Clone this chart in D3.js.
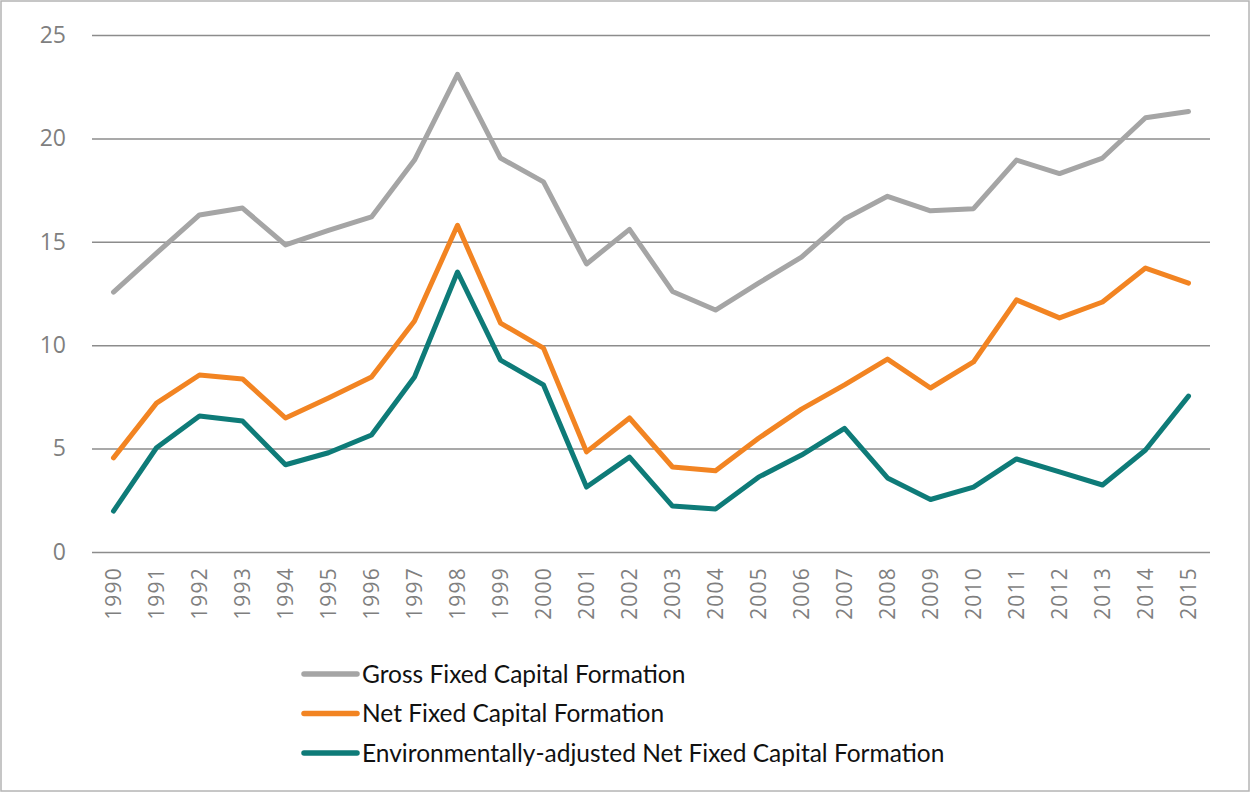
<!DOCTYPE html>
<html>
<head>
<meta charset="utf-8">
<script src="https://cdn.jsdelivr.net/npm/d3@7"></script>
<style>
  body { margin: 0; background: #fff; }
  svg { display: block; font-family: Lato, "Open Sans", sans-serif; }
</style>
</head>
<body>
<svg id="chart" width="1250" height="793"></svg>
<script>
// data
var years = [1990,1991,1992,1993,1994,1995,1996,1997,1998,1999,2000,2001,2002,2003,2004,2005,2006,2007,2008,2009,2010,2011,2012,2013,2014,2015];
var gross = [12.57,14.45,16.3,16.63,14.85,15.55,16.2,18.95,23.1,19.05,17.9,13.93,15.6,12.6,11.7,13.0,14.26,16.1,17.2,16.5,16.6,18.95,18.3,19.05,21.0,21.3];
var net = [4.55,7.2,8.56,8.37,6.48,7.45,8.46,11.17,15.8,11.07,9.86,4.84,6.48,4.11,3.93,5.5,6.91,8.08,9.33,7.93,9.19,12.19,11.32,12.09,13.73,13.0];
var envAdj = [1.98,5.04,6.58,6.33,4.22,4.8,5.66,8.46,13.54,9.28,8.08,3.14,4.59,2.22,2.08,3.62,4.69,5.98,3.58,2.54,3.14,4.5,3.87,3.24,4.93,7.54];
var yTicks = [0,5,10,15,20,25];

var seriesNames = ["Gross Fixed Capital Formation", "Net Fixed Capital Formation", "Environmentally-adjusted Net Fixed Capital Formation"];
var seriesColors = ["#a5a5a5", "#f28422", "#0e7b78"];
var seriesData = [gross, net, envAdj];

var svg = d3.select("#chart");
var W = 1250, H = 793;
var mLeft = 92, mRight = 1210, mTop = 35, mBottom = 552;

svg.append("rect")
  .attr("x", 1).attr("y", 1)
  .attr("width", W - 2).attr("height", H - 3)
  .attr("fill", "#fff").attr("stroke", "#b4b4b4").attr("stroke-width", 1.5);

var x = d3.scaleBand().domain(years).range([mLeft, mRight]);
var y = d3.scaleLinear().domain([0, 25]).range([mBottom, mTop]);

// gridlines + y labels
var yAxis = svg.append("g")
  .attr("transform", "translate(" + mLeft + ",0)")
  .call(d3.axisLeft(y).tickValues(yTicks).tickSize(-(mRight - mLeft)).tickPadding(26));
yAxis.select(".domain").remove();
yAxis.selectAll(".tick line").attr("stroke", "#8c8c8c").attr("stroke-width", 1.5);
yAxis.selectAll(".tick text")
  .attr("fill", "#7f7f7f")
  .style("font-family", "'Open Sans', sans-serif")
  .style("font-size", "23px");

// x labels, rotated
var xAxis = svg.append("g")
  .attr("transform", "translate(0," + mBottom + ")")
  .call(d3.axisBottom(x).tickSize(0));
xAxis.select(".domain").remove();
xAxis.selectAll(".tick text")
  .attr("fill", "#7f7f7f")
  .style("font-family", "'Open Sans', sans-serif")
  .style("font-size", "21px")
  .style("letter-spacing", "1.2px")
  .attr("text-anchor", "end")
  .attr("transform", "translate(0,15) rotate(-90)")
  .attr("x", 0).attr("y", 0).attr("dy", "0.35em");

var line = d3.line()
  .x(function(d, i) { return x(years[i]) + x.bandwidth() / 2; })
  .y(function(d) { return y(d); });

seriesData.forEach(function(s, k) {
  svg.append("path")
    .datum(s)
    .attr("d", line)
    .attr("fill", "none")
    .attr("stroke", seriesColors[k])
    .attr("stroke-width", 5)
    .attr("stroke-linejoin", "round")
    .attr("stroke-linecap", "round");
});

// legend
var legend = svg.append("g");
seriesNames.forEach(function(name, k) {
  var ly = 674 + k * 39.5;
  legend.append("line")
    .attr("x1", 304).attr("x2", 357)
    .attr("y1", ly).attr("y2", ly)
    .attr("stroke", seriesColors[k]).attr("stroke-width", 5.5)
    .attr("stroke-linecap", "round");
  legend.append("text")
    .attr("x", 362).attr("y", ly).attr("dy", "0.35em")
    .attr("fill", "#111").style("font-size", "24.5px")
    .text(name);
});
</script>
</body>
</html>
